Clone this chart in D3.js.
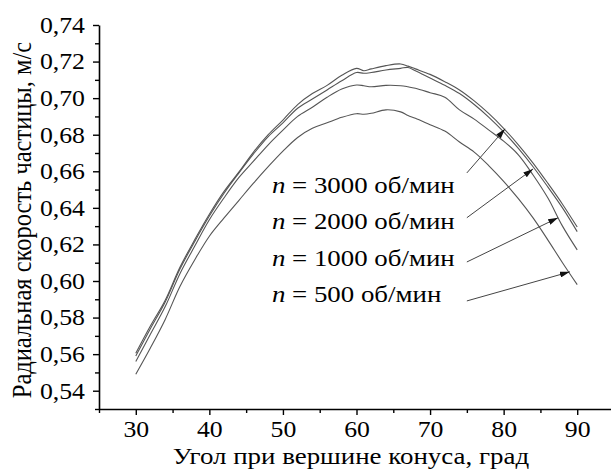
<!DOCTYPE html>
<html>
<head>
<meta charset="utf-8">
<script src="https://cdn.jsdelivr.net/npm/d3@7"></script>
<style>
  body { margin: 0; background: #fff; }
  svg { display: block; }
</style>
</head>
<body>
<svg id="chart"></svg>
<script>
// угол при вершине конуса, град
const angles = [30, 32, 34, 36, 38, 40, 42, 44, 46, 48, 50, 52, 54, 56, 58, 60, 61, 62, 64, 66, 67, 68, 70, 72, 74, 76, 78, 80, 82, 84, 86, 88, 90];

// радиальная скорость, м/с
const v3000 = [0.5605, 0.5755, 0.5895, 0.6075, 0.6225, 0.6365, 0.6490, 0.6595, 0.6705, 0.6800, 0.6880, 0.6965, 0.7025, 0.7070, 0.7125, 0.7163, 0.7150, 0.7160, 0.7178, 0.7187, 0.7175, 0.7160, 0.7130, 0.7090, 0.7045, 0.6985, 0.6915, 0.6835, 0.6745, 0.6645, 0.6535, 0.6420, 0.6295];
const v2000 = [0.5590, 0.5740, 0.5885, 0.6065, 0.6215, 0.6355, 0.6480, 0.6590, 0.6695, 0.6790, 0.6865, 0.6945, 0.6995, 0.7045, 0.7095, 0.7140, 0.7136, 0.7140, 0.7154, 0.7163, 0.7168, 0.7150, 0.7110, 0.7070, 0.7025, 0.6965, 0.6895, 0.6815, 0.6725, 0.6625, 0.6515, 0.6400, 0.6270];
const v1000 = [0.5560, 0.5710, 0.5860, 0.6040, 0.6190, 0.6335, 0.6455, 0.6565, 0.6655, 0.6745, 0.6825, 0.6900, 0.6950, 0.7005, 0.7050, 0.7072, 0.7068, 0.7062, 0.7070, 0.7068, 0.7062, 0.7054, 0.7030, 0.7005, 0.6936, 0.6885, 0.6825, 0.6765, 0.6690, 0.6580, 0.6455, 0.6300, 0.6170];
const v500 = [0.5490, 0.5635, 0.5790, 0.5970, 0.6115, 0.6245, 0.6345, 0.6440, 0.6535, 0.6625, 0.6710, 0.6785, 0.6835, 0.6865, 0.6895, 0.6915, 0.6912, 0.6917, 0.6936, 0.6925, 0.6905, 0.6890, 0.6855, 0.6820, 0.6760, 0.6705, 0.6630, 0.6545, 0.6450, 0.6345, 0.6225, 0.6100, 0.5980];

const xTicks = [30, 40, 50, 60, 70, 80, 90];
const xMinor = [25, 35, 45, 55, 65, 75, 85, 95];
const yTicks = [0.54, 0.56, 0.58, 0.60, 0.62, 0.64, 0.66, 0.68, 0.70, 0.72, 0.74];
const yMinor = [0.53, 0.55, 0.57, 0.59, 0.61, 0.63, 0.65, 0.67, 0.69, 0.71, 0.73];

// подписи и стрелки (в координатах данных)
const speeds = ['3000', '2000', '1000', '500'];
const labelAngle = 48.5;
const labelValue = [0.6482, 0.6285, 0.6083, 0.5886];
const arrowFrom = [[75.0, 0.6591], [75.0, 0.6346], [75.0, 0.6104], [75.0, 0.5891]];
const arrowTo = [[80.2, 0.6832], [84.0, 0.6613], [87.4, 0.6346], [89.0, 0.6050]];

const W = 611, H = 470;
const margin = { top: 25, right: -3, bottom: 61, left: 99 };
const serif = "'Liberation Serif', 'Times New Roman'";
const stretchK = 1.12; // шрифт в оригинале немного растянут по горизонтали

const x = d3.scaleLinear().domain([25, 95]).range([margin.left, W - margin.right]);
const y = d3.scaleLinear().domain([0.53, 0.74]).range([H - margin.bottom, margin.top]);

const svg = d3.select('#chart').attr('width', W).attr('height', H);

function stretch(sel, k = stretchK) {
    sel.each(function () {
        const len = this.getComputedTextLength();
        d3.select(this)
            .attr('textLength', len * k)
            .attr('lengthAdjust', 'spacingAndGlyphs');
    });
}

svg.append('defs').append('marker')
    .attr('id', 'arrow')
    .attr('viewBox', '0 0 10 6')
    .attr('refX', 10).attr('refY', 3)
    .attr('markerWidth', 10).attr('markerHeight', 6)
    .attr('markerUnits', 'userSpaceOnUse')
    .attr('orient', 'auto')
    .append('path')
    .attr('d', 'M0,0 L10,3 L0,6 Z')
    .attr('fill', '#111');

// кривые
const series = [v3000, v2000, v1000, v500];
const line = d3.line()
    .x((d, i) => x(angles[i]))
    .y(d => y(d))
    .curve(d3.curveCatmullRom.alpha(0.5));

svg.selectAll('.curve')
    .data(series)
    .enter()
    .append('path')
    .attr('class', 'curve')
    .attr('d', line)
    .attr('fill', 'none')
    .attr('stroke', '#555')
    .attr('stroke-width', 1.1);

// оси
svg.append('g')
    .attr('transform', `translate(0,${y(0.53)})`)
    .call(d3.axisBottom(x).tickValues(xTicks).tickSize(6).tickPadding(6).tickSizeOuter(0));
svg.append('g')
    .attr('transform', `translate(0,${y(0.53)})`)
    .call(d3.axisBottom(x).tickValues(xMinor).tickSize(4).tickFormat('').tickSizeOuter(0))
    .select('.domain').remove();

svg.append('g')
    .attr('transform', `translate(${x(25)},0)`)
    .call(d3.axisLeft(y).tickValues(yTicks).tickSize(6).tickPadding(8).tickSizeOuter(0)
        .tickFormat(d => d3.format('.2f')(d).replace('.', ',')));
svg.append('g')
    .attr('transform', `translate(${x(25)},0)`)
    .call(d3.axisLeft(y).tickValues(yMinor).tickSize(4).tickFormat('').tickSizeOuter(0))
    .select('.domain').remove();

svg.selectAll('.domain').attr('stroke', '#000').attr('stroke-width', 1.6);
svg.selectAll('.tick line').attr('stroke', '#000').attr('stroke-width', 1.4);
svg.selectAll('.tick text')
    .attr('fill', '#000')
    .style('font-family', serif)
    .style('font-size', '23px')
    .call(stretch);

// подписи осей
svg.append('text')
    .attr('x', 351)
    .attr('y', 464)
    .style('font-family', serif)
    .style('font-size', '23px')
    .style('text-anchor', 'middle')
    .text('Угол при вершине конуса, град')
    .call(stretch, 1.17);

svg.append('text')
    .attr('transform', `translate(31,220) scale(${stretchK},1) rotate(-90)`)
    .style('font-family', serif)
    .style('font-size', '24.5px')
    .style('text-anchor', 'middle')
    .text('Радиальная скорость частицы, м/с');

// обозначения кривых
const labels = svg.selectAll('.lbl')
    .data(speeds)
    .enter()
    .append('text')
    .attr('class', 'lbl')
    .attr('transform', (d, i) => `translate(${x(labelAngle)},${y(labelValue[i])}) scale(${stretchK},1)`)
    .style('font-family', serif)
    .style('font-size', '24px');
labels.append('tspan').style('font-style', 'italic').text('n');
labels.append('tspan').text(d => ` = ${d} об/мин`);

svg.selectAll('.arr')
    .data(arrowFrom)
    .enter()
    .append('line')
    .attr('class', 'arr')
    .attr('x1', d => x(d[0]))
    .attr('y1', d => y(d[1]))
    .attr('x2', (d, i) => x(arrowTo[i][0]))
    .attr('y2', (d, i) => y(arrowTo[i][1]))
    .attr('stroke', '#444')
    .attr('stroke-width', 1)
    .attr('marker-end', 'url(#arrow)');
</script>
</body>
</html>
